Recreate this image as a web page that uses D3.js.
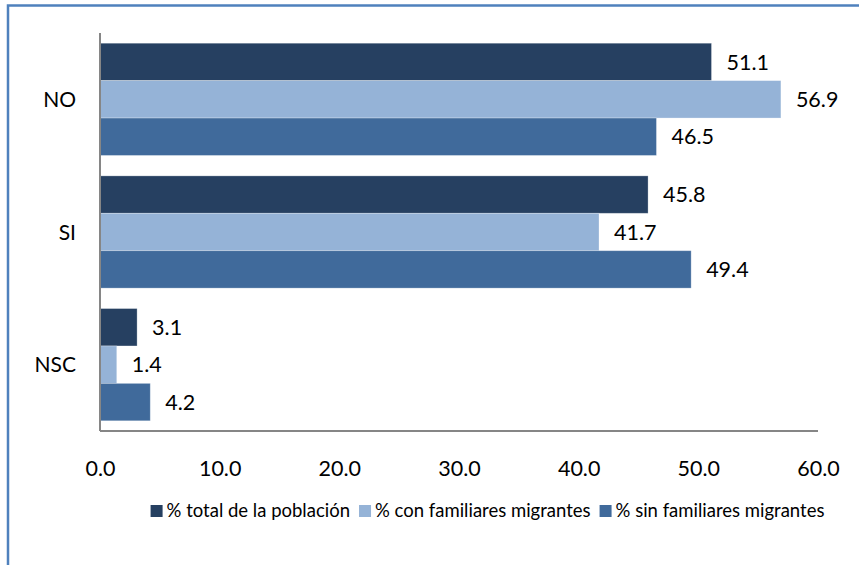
<!DOCTYPE html>
<html>
<head>
<meta charset="utf-8">
<script src="https://cdn.jsdelivr.net/npm/d3@7"></script>
<style>
  html, body { margin: 0; padding: 0; background: #fff; }
  svg { display: block; font-family: Lato, "Open Sans", sans-serif; font-weight: 400; }
</style>
</head>
<body>
<svg id="chart" width="859" height="565"></svg>
<script>
const categories = ["NO", "SI", "NSC"];
const seriesNames = ["% total de la población", "% con familiares migrantes", "% sin familiares migrantes"];
const totalPoblacion = [51.1, 45.8, 3.1];
const conFamiliares = [56.9, 41.7, 1.4];
const sinFamiliares = [46.5, 49.4, 4.2];
const xTicks = [0, 10, 20, 30, 40, 50, 60];
const colors = ["#264061", "#95b3d7", "#406a9b"];

const series = [totalPoblacion, conFamiliares, sinFamiliares];

const svg = d3.select("#chart");
const W = 859, H = 565;
const plot = { left: 100, right: 818, top: 33, bottom: 431 };

// outer border (top + left only visible)
svg.append("path")
  .attr("d", `M8,${H} L8,5.5 L${W},5.5`)
  .attr("fill", "none")
  .attr("stroke", "#4f81bd")
  .attr("stroke-width", 2.5);

const x = d3.scaleLinear().domain([0, 60]).range([plot.left, plot.right]);
const y0 = d3.scaleBand().domain(categories).range([plot.top, plot.bottom]).paddingInner(0.154).paddingOuter(0.077);
const y1 = d3.scaleBand().domain(d3.range(series.length)).range([0, y0.bandwidth()]);

const rows = [];
categories.forEach((c, ci) => {
  series.forEach((s, si) => rows.push({ cat: c, si, v: s[ci] }));
});

// bars
svg.append("g").selectAll("rect").data(rows).join("rect")
  .attr("x", x(0))
  .attr("y", d => y0(d.cat) + y1(d.si))
  .attr("width", d => x(d.v) - x(0))
  .attr("height", y1.bandwidth())
  .attr("fill", d => colors[d.si])
  .attr("stroke", "#ffffff")
  .attr("stroke-opacity", 0.35)
  .attr("stroke-width", 0.8);

// value labels
svg.append("g").selectAll("text").data(rows).join("text")
  .attr("x", d => x(d.v) + 15)
  .attr("y", d => y0(d.cat) + y1(d.si) + y1.bandwidth() / 2)
  .attr("dy", "0.36em")
  .attr("font-size", 21.5)
  .attr("fill", "#000")
  .text(d => d.v.toFixed(1));

// axes lines
svg.append("line")
  .attr("x1", plot.left).attr("x2", plot.left)
  .attr("y1", plot.top).attr("y2", plot.bottom)
  .attr("stroke", "#868686").attr("stroke-width", 2);

const xAxis = d3.axisBottom(x).tickValues(xTicks).tickFormat(d => d.toFixed(1)).tickSize(0).tickPadding(30);
const gx = svg.append("g").attr("transform", `translate(0,${plot.bottom})`).call(xAxis);
gx.select(".domain").attr("stroke", "#868686").attr("stroke-width", 2)
  .attr("d", `M${plot.left},0H${plot.right}`);
gx.selectAll("text").attr("font-size", 21.5).attr("font-family", "Lato, 'Open Sans', sans-serif").attr("fill", "#000");

// category labels
svg.append("g").selectAll("text").data(categories).join("text")
  .attr("x", 76)
  .attr("y", d => y0(d) + y0.bandwidth() / 2)
  .attr("dy", "0.36em")
  .attr("text-anchor", "end")
  .attr("font-size", 21)
  .attr("fill", "#000")
  .text(d => d);

// legend
const legend = svg.append("g");
const items = legend.selectAll("g").data(seriesNames).join("g");
items.append("rect").attr("width", 12).attr("height", 12).attr("y", -6).attr("fill", (d, i) => colors[i]);
items.append("text").attr("x", 16).attr("dy", "0.35em").attr("font-size", 18.5).attr("fill", "#000").text(d => d);
const widths = [];
items.each(function () { widths.push(16 + d3.select(this).select("text").node().getComputedTextLength()); });
const gap = 9;
const total = d3.sum(widths) + gap * (widths.length - 1);
let start = 487.5 - total / 2;
items.attr("transform", (d, i) => {
  const t = `translate(${start},511)`;
  start += widths[i] + gap;
  return t;
});
</script>
</body>
</html>
